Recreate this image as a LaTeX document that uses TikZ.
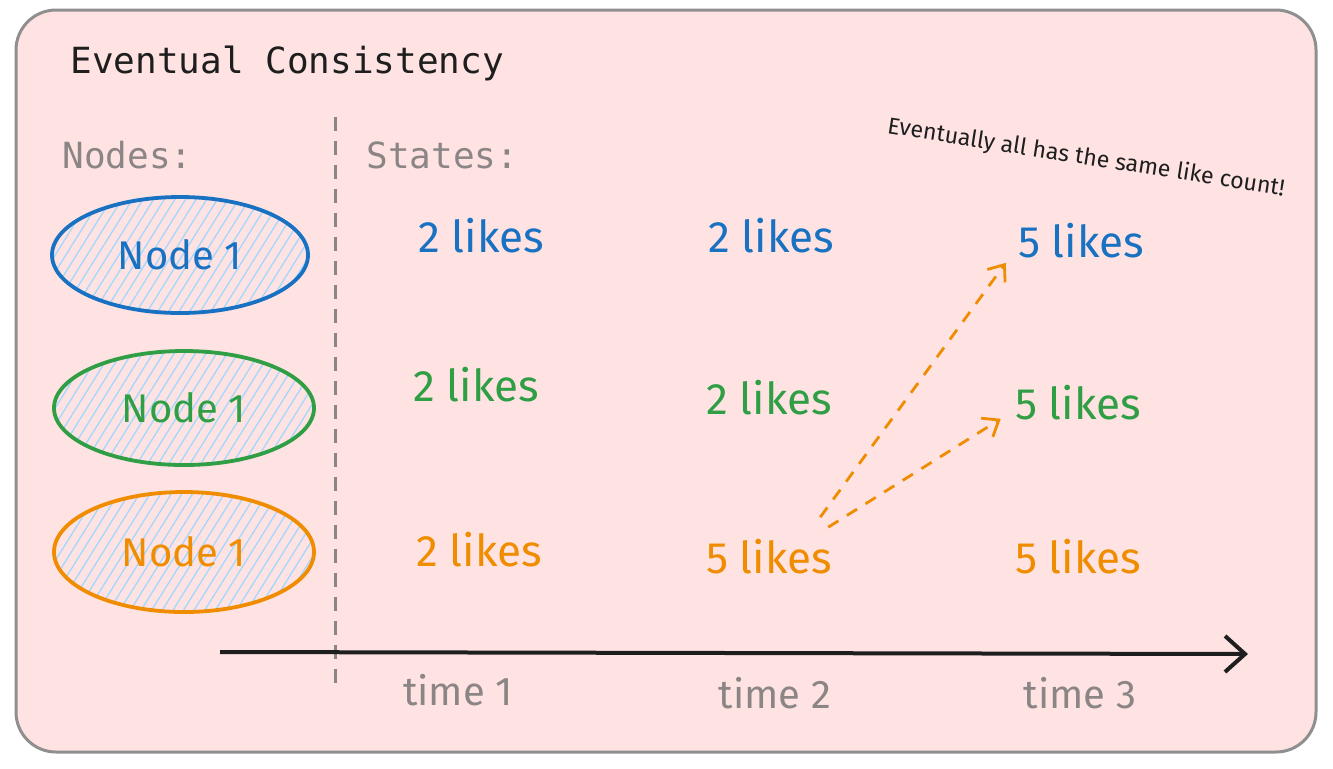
\documentclass[tikz,border=0pt]{standalone}
\usepackage{fontspec}
\setmainfont{Fira Sans}
\setmonofont{DejaVu Sans Mono}
\usetikzlibrary{shapes.geometric,patterns.meta,arrows.meta}
\definecolor{bgpink}{HTML}{FFE3E3}
\definecolor{framegray}{HTML}{8F8F8F}
\definecolor{labelgray}{HTML}{8C8585}
\definecolor{inkblue}{HTML}{1971C2}
\definecolor{inkgreen}{HTML}{2F9E44}
\definecolor{inkorange}{HTML}{F08C00}
\definecolor{hatchblue}{HTML}{A5D8FF}
\definecolor{ink}{HTML}{1E1E1E}

\begin{document}
\begin{tikzpicture}[x=0.5pt, y=-0.5pt,
    every node/.style={inner sep=0pt},
    server/.style={ellipse, draw=#1, text=#1, line width=1.9pt,
        minimum width=128pt, minimum height=58pt,
        pattern={Lines[angle=58,distance=4.5pt,line width=0.7pt]}, pattern color=hatchblue,
        font=\fontsize{20}{20}\selectfont},
    likes/.style={text=#1, font=\fontsize{22}{22}\selectfont},
    heading/.style={text=labelgray, font=\fontsize{18}{18}\selectfont\ttfamily},
    timelabel/.style={text=labelgray, font=\fontsize{20}{20}\selectfont},
    sync/.style={draw=inkorange, line width=1.4pt, dash pattern=on 6pt off 5pt,
        -{Straight Barb[length=7pt,width=11pt,line width=1.4pt]}}]
    \useasboundingbox (0,0) rectangle (1333,768);

    % Frame
    \draw[framegray, fill=bgpink, line width=1.5pt, rounded corners=20pt] (16,10) rectangle (1316,752);
    \node[text=ink, font=\fontsize{18}{18}\selectfont\ttfamily, anchor=west] (title) at (70,63) {Eventual Consistency};

    % Headings and divider
    \node[heading, anchor=west] (nodes) at (62,155) {Nodes:};
    \node[heading, anchor=west] (states) at (366,155) {States:};
    \coordinate (divtop) at (335,117);
    \coordinate (divbot) at (335,685);
    \draw[labelgray, line width=1.5pt, dash pattern=on 7pt off 5pt] (divtop) -- (divbot);

    % Servers
    \node[server=inkblue] (n1) at (180,255) {Node 1};
    \node[server=inkgreen, minimum width=130pt, minimum height=57pt] (n2) at (184,408) {Node 1};
    \node[server=inkorange, minimum width=130pt, minimum height=60pt] (n3) at (184,552) {Node 1};

    % States of Node 1 (blue)
    \node[likes=inkblue] (b1) at (481,236) {2 likes};
    \node[likes=inkblue] (b2) at (771,236) {2 likes};
    \node[likes=inkblue] (b3) at (1081,241) {5 likes};

    % States of Node 1 (green)
    \node[likes=inkgreen] (g1) at (476,385) {2 likes};
    \node[likes=inkgreen] (g2) at (769,398) {2 likes};
    \node[likes=inkgreen] (g3) at (1078,403) {5 likes};

    % States of Node 1 (orange)
    \node[likes=inkorange] (o1) at (479,550) {2 likes};
    \node[likes=inkorange] (o2) at (769,557) {5 likes};
    \node[likes=inkorange] (o3) at (1078,557) {5 likes};

    % Note
    \node[text=ink, font=\fontsize{11.6}{11.6}\selectfont, rotate=-9] (note) at (1086,158) {Eventually all has the same like count!};

    % Propagation
    \draw[sync] ([shift={(-12,-22)}]o2.north east) -- ([shift={(-12,4)}]b3.south west);
    \draw[sync] ([shift={(-4,-12)}]o2.north east) -- ([shift={(-14,-2)}]g3.south west);

    % Timeline
    \coordinate (tstart) at (220,652);
    \coordinate (tend) at (1248,654);
    \draw[ink, line width=2pt, -{Straight Barb[length=10pt,width=18pt,line width=2pt]}] (tstart) -- (tend);
    \node[timelabel] (t1) at (458,690) {time 1};
    \node[timelabel] (t2) at (775,693) {time 2};
    \node[timelabel] (t3) at (1080,693) {time 3};
\end{tikzpicture}
\end{document}
